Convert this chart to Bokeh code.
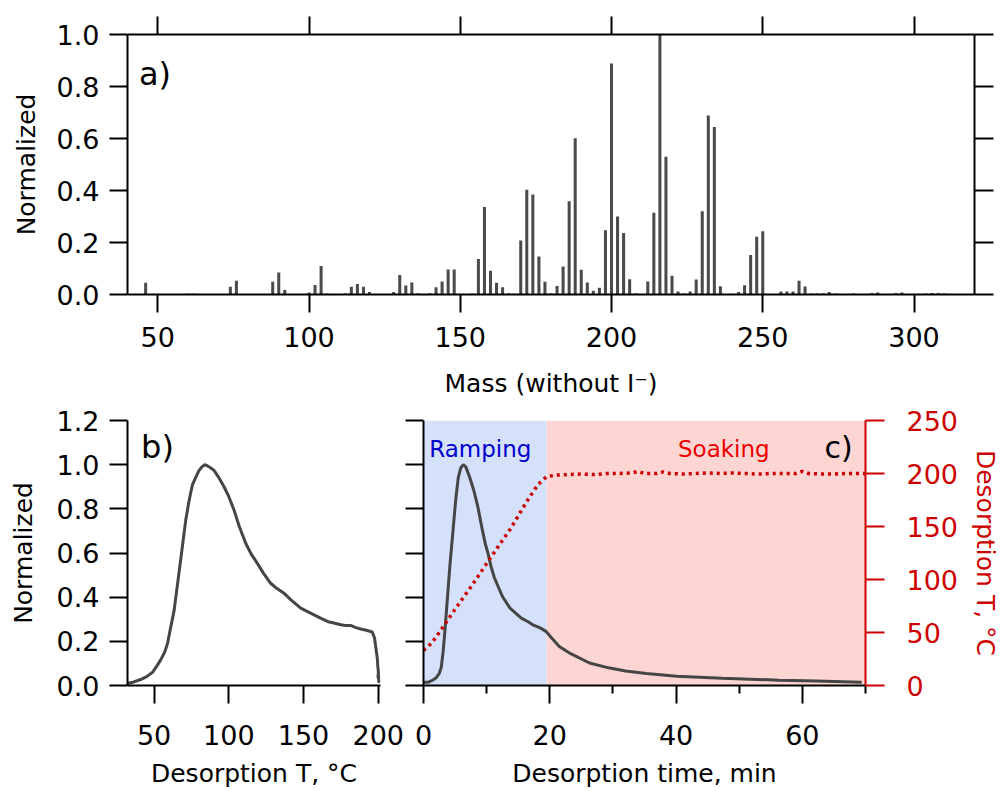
from bokeh.plotting import figure
from bokeh.layouts import column, row
from bokeh.models import (Range1d, LinearAxis, FixedTicker, PrintfTickFormatter,
                          CustomJSTickFormatter, Label)
from bokeh.embed import file_html
from bokeh.resources import INLINE

FONT = "DejaVu Sans"

# ---------------- data ----------------
# a) mass spectrum (mass without I-, normalized signal)
mass = [46, 60, 62, 74, 76, 88, 90, 92, 100, 102, 104, 106, 112, 114, 116, 118, 120,
        128, 130, 132, 134, 136, 140, 142, 144, 146, 148, 154, 156, 158, 160, 162, 164,
        166, 168, 170, 172, 174, 176, 178, 180, 182, 184, 186, 188, 190, 192, 194, 196,
        198, 200, 202, 204, 206, 208, 212, 214, 216, 218, 220, 222, 224, 226, 228, 230,
        232, 234, 236, 240, 242, 244, 246, 248, 250, 256, 258, 260, 262, 264, 266, 268,
        270, 272, 274, 280, 286, 288, 294, 296, 304, 306, 308, 310]
intensity = [0.045, 0.003, 0.003, 0.030, 0.053, 0.049, 0.085, 0.017, 0.008, 0.037, 0.110,
             0.004, 0.005, 0.030, 0.040, 0.030, 0.010, 0.010, 0.075, 0.035, 0.046, 0.005,
             0.005, 0.028, 0.050, 0.096, 0.096, 0.004, 0.137, 0.337, 0.091, 0.045, 0.028,
             0.005, 0.003, 0.208, 0.403, 0.385, 0.146, 0.049, 0.005, 0.033, 0.108, 0.359,
             0.601, 0.095, 0.046, 0.014, 0.026, 0.247, 0.888, 0.300, 0.237, 0.059, 0.005,
             0.050, 0.314, 1.000, 0.530, 0.072, 0.012, 0.004, 0.012, 0.058, 0.320, 0.688,
             0.644, 0.032, 0.003, 0.010, 0.036, 0.152, 0.222, 0.243, 0.012, 0.012, 0.012,
             0.053, 0.031, 0.004, 0.004, 0.005, 0.010, 0.004, 0.004, 0.006, 0.008, 0.006,
             0.008, 0.004, 0.006, 0.006, 0.004]

# b) thermogram vs desorption temperature
b_temp = [32.5, 36, 41, 45, 49, 52, 54.5, 57, 59, 61, 63.4, 65.5, 67.8, 69.5, 71.2, 73.5,
          75.7, 78, 80.1, 82, 83.9, 86, 88, 90.1, 93, 96.8, 100, 103.5, 107, 111.3, 115,
          119.1, 123, 128, 132, 136.9, 142, 148.1, 154, 161.4, 166, 170.3, 175, 178, 181.5,
          185, 188.2, 192, 196, 197.5, 198.2, 198.9, 199.4, 199.7, 200.1, 199.8, 200.4,
          200.0, 200.5]
b_signal = [0.010, 0.015, 0.027, 0.040, 0.060, 0.090, 0.117, 0.150, 0.190, 0.260, 0.340,
            0.450, 0.570, 0.660, 0.750, 0.840, 0.910, 0.945, 0.974, 0.990, 1.000, 0.993,
            0.985, 0.974, 0.945, 0.900, 0.855, 0.794, 0.720, 0.644, 0.595, 0.553, 0.510,
            0.463, 0.440, 0.418, 0.385, 0.350, 0.330, 0.305, 0.290, 0.283, 0.275, 0.272,
            0.272, 0.262, 0.256, 0.250, 0.242, 0.215, 0.180, 0.147, 0.120, 0.087, 0.060,
            0.040, 0.027, 0.050, 0.012]

# c) thermogram vs desorption time, plus desorption temperature
c_time = [0, 0.8, 1.5, 2.0, 2.5, 2.8, 3.1, 3.4, 3.8, 4.2, 4.7, 5.1, 5.5, 5.9, 6.3, 6.7,
          7.3, 8.0, 8.6, 9.35, 9.8, 10.2, 10.7, 11.2, 11.6, 12.5, 13.7, 14.5, 15.5, 16.5,
          17.3, 18.4, 19.4, 20.3, 21.5, 23.3, 26.3, 29.3, 32, 35.3, 40.1, 47.3, 56.3,
          62.3, 69.4]
c_signal = [0.015, 0.015, 0.025, 0.035, 0.055, 0.080, 0.150, 0.250, 0.400, 0.550, 0.710,
            0.840, 0.940, 0.985, 1.000, 0.990, 0.944, 0.880, 0.810, 0.700, 0.640, 0.600,
            0.538, 0.490, 0.463, 0.403, 0.350, 0.330, 0.305, 0.290, 0.275, 0.262, 0.245,
            0.215, 0.177, 0.144, 0.102, 0.080, 0.066, 0.054, 0.042, 0.033, 0.024, 0.020,
            0.015]
temp_time = [0, 1.3, 2.5, 5, 7.5, 10, 12.5, 13.8, 15, 16.5, 18.2, 19.5, 21, 23, 25, 27,
             29, 31, 33, 34, 35, 37, 38, 39, 41, 43, 45, 47, 49, 51, 53, 55, 57, 59, 60,
             61, 63, 65, 67, 69, 70]
temp_value = [33, 40, 50, 72, 93, 115, 137, 148, 160, 175, 190, 197, 198.5, 199, 199.5,
              199, 200, 200, 200.5, 202, 200, 200, 201.5, 200, 199.5, 200, 200.5, 200,
              200.5, 200, 199.5, 200, 200, 200, 202, 200, 199.5, 199.5, 200, 200, 200]

phase_left = [0, 19.5]
phase_right = [19.5, 70]
phase_colors = ["#d5e0fb", "#fdd6d4"]

a_xticks = [50, 100, 150, 200, 250, 300]
a_yticks = [0, 0.2, 0.4, 0.6, 0.8, 1.0]
b_xticks = [50, 100, 150, 200]
bc_yticks = [0, 0.2, 0.4, 0.6, 0.8, 1.0, 1.2]
c_xticks = [0, 20, 40, 60]
c_xminor = [10, 30, 50, 70]
t_ticks = [0, 50, 100, 150, 200, 250]

LINE = "#454545"
RED = "#cc0000"


def style_axis(ax, ticks, minor=None, fmt=None, labels=True, color="black",
               standoff=10, label_standoff=10, tick_out=18):
    ax.ticker = FixedTicker(ticks=ticks, minor_ticks=minor or [])
    ax.major_tick_in = 0
    ax.major_tick_out = tick_out
    ax.minor_tick_in = 0
    ax.minor_tick_out = 8 if minor else 0
    ax.axis_line_width = 2
    ax.major_tick_line_width = 2
    ax.minor_tick_line_width = 2
    ax.axis_line_color = color
    ax.major_tick_line_color = color
    ax.minor_tick_line_color = color
    ax.major_label_text_color = color
    ax.major_label_text_font = FONT
    ax.major_label_text_font_size = "27px"
    ax.major_label_standoff = standoff
    ax.axis_label_text_font = FONT
    ax.axis_label_text_font_size = "25px"
    ax.axis_label_text_font_style = "normal"
    ax.axis_label_text_color = color
    ax.axis_label_standoff = label_standoff
    if fmt is not None:
        ax.formatter = fmt
    if not labels:
        ax.formatter = CustomJSTickFormatter(code="return '';")
        ax.major_label_standoff = 0


def base(p):
    p.xgrid.visible = False
    p.ygrid.visible = False
    p.outline_line_color = None
    p.background_fill_color = "white"
    p.border_fill_color = "white"


# ---------------- panel a ----------------
pa = figure(width=1000, height=400, x_range=Range1d(40, 320), y_range=Range1d(0, 1.0),
            output_backend="svg", toolbar_location=None,
            min_border_left=127, min_border_right=26, min_border_top=34,
            min_border_bottom=106)
base(pa)
pa.vbar(x=mass, top=intensity, width=1.0, bottom=0, fill_color="#4a4a4a",
        line_color=None)
style_axis(pa.xaxis[0], a_xticks, standoff=14, label_standoff=19)
style_axis(pa.yaxis[0], a_yticks, fmt=PrintfTickFormatter(format="%.1f"),
           standoff=10, label_standoff=13)
pa.xaxis[0].axis_label = "Mass (without I\u207b)"
pa.yaxis[0].axis_label = "Normalized"
top_ax = LinearAxis()
style_axis(top_ax, a_xticks, labels=False)
pa.add_layout(top_ax, "above")
right_ax = LinearAxis()
style_axis(right_ax, a_yticks, labels=False, tick_out=19)
pa.add_layout(right_ax, "right")
pa.add_layout(Label(x=43.8, y=0.849, text="a)", text_font=FONT, text_font_size="32px",
                    text_baseline="alphabetic", text_color="black"))

# ---------------- panel b ----------------
pb = figure(width=404, height=390, x_range=Range1d(32.2, 201.5), y_range=Range1d(0, 1.2),
            output_backend="svg", toolbar_location=None,
            min_border_left=127, min_border_right=24, min_border_top=20,
            min_border_bottom=104)
base(pb)
pb.line(b_temp, b_signal, line_color=LINE, line_width=3)
style_axis(pb.xaxis[0], b_xticks, standoff=21, label_standoff=11)
style_axis(pb.yaxis[0], bc_yticks, fmt=PrintfTickFormatter(format="%.1f"),
           standoff=10, label_standoff=16)
pb.xaxis[0].axis_label = "Desorption T, \u00b0C"
pb.yaxis[0].axis_label = "Normalized"
pb.add_layout(Label(x=41.3, y=1.08, text="b)", text_font=FONT, text_font_size="32px",
                    text_baseline="alphabetic", text_color="black"))

# ---------------- panel c ----------------
pc = figure(width=599, height=390, x_range=Range1d(0, 70), y_range=Range1d(0, 1.2),
            output_backend="svg", toolbar_location=None,
            min_border_left=19, min_border_right=131, min_border_top=20,
            min_border_bottom=104)
base(pc)
pc.extra_y_ranges = {"T": Range1d(0, 250)}
pc.quad(left=phase_left, right=phase_right, bottom=0, top=1.2, fill_color=phase_colors,
        line_color=None)
pc.line(c_time, c_signal, line_color=LINE, line_width=3)
pc.line(temp_time, temp_value, y_range_name="T", line_color=RED, line_width=3.5,
        line_dash="3 4")
style_axis(pc.xaxis[0], c_xticks, minor=c_xminor, standoff=21, label_standoff=11)
style_axis(pc.yaxis[0], bc_yticks, labels=False)
pc.xaxis[0].axis_label = "Desorption time, min"
t_ax = LinearAxis(y_range_name="T", axis_label="Desorption T, \u00b0C")
style_axis(t_ax, t_ticks, color=RED, standoff=22, label_standoff=10, tick_out=19)
pc.add_layout(t_ax, "right")
pc.add_layout(Label(x=0.9, y=1.071, text="Ramping", text_font=FONT, text_font_size="23px",
                    text_baseline="alphabetic", text_color="#0000cc"))
pc.add_layout(Label(x=40.3, y=1.073, text="Soaking", text_font=FONT, text_font_size="23px",
                    text_baseline="alphabetic", text_color="#ee0000"))
pc.add_layout(Label(x=63.5, y=1.079, text="c)", text_font=FONT, text_font_size="30px",
                    text_baseline="alphabetic", text_color="black"))

layout = column(pa, row(pb, pc))
open("out.html", "w").write(file_html(layout, INLINE))
